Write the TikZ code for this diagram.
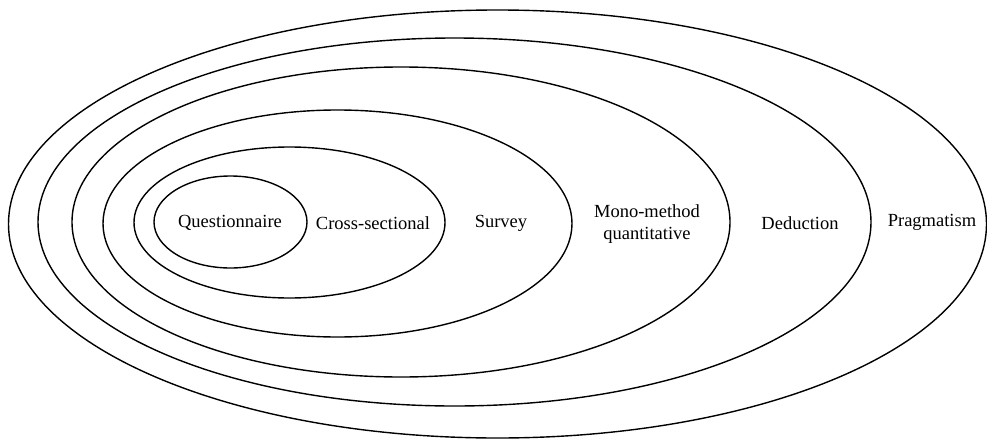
\documentclass[tikz,border=0pt]{standalone}
\usepackage{fontspec}
\setmainfont{Liberation Serif}

\begin{document}
\begin{tikzpicture}[x=1pt,y=-1pt,
    layer/.style={line width=1.4pt},
    every node/.style={font=\fontsize{18.5}{22}\selectfont}]
    \useasboundingbox (0,0) rectangle (987,439);
    % onion layers, outer to inner
    \draw [layer] (497.5,224) ellipse [x radius=489pt, y radius=214pt];
    \draw [layer] (454.5,222) ellipse [x radius=416.5pt, y radius=184pt];
    \draw [layer] (401,222) ellipse [x radius=329pt, y radius=155pt];
    \draw [layer] (337.5,223.5) ellipse [x radius=234.5pt, y radius=113.5pt];
    \draw [layer] (289.5,222.5) ellipse [x radius=155.5pt, y radius=75.5pt];
    \draw [layer] (230.5,222) ellipse [x radius=76.5pt, y radius=46pt];
    \node (quest) at (230,223) {Questionnaire};
    \node (cross) at (373,223) {Cross-sectional};
    \node (survey) at (501,223) {Survey};
    \node (mono) at (647,224) [align=center] {Mono-method\\quantitative};
    \node (deduct) at (800,223) {Deduction};
    \node (pragma) at (932,222) {Pragmatism};
\end{tikzpicture}
\end{document}
